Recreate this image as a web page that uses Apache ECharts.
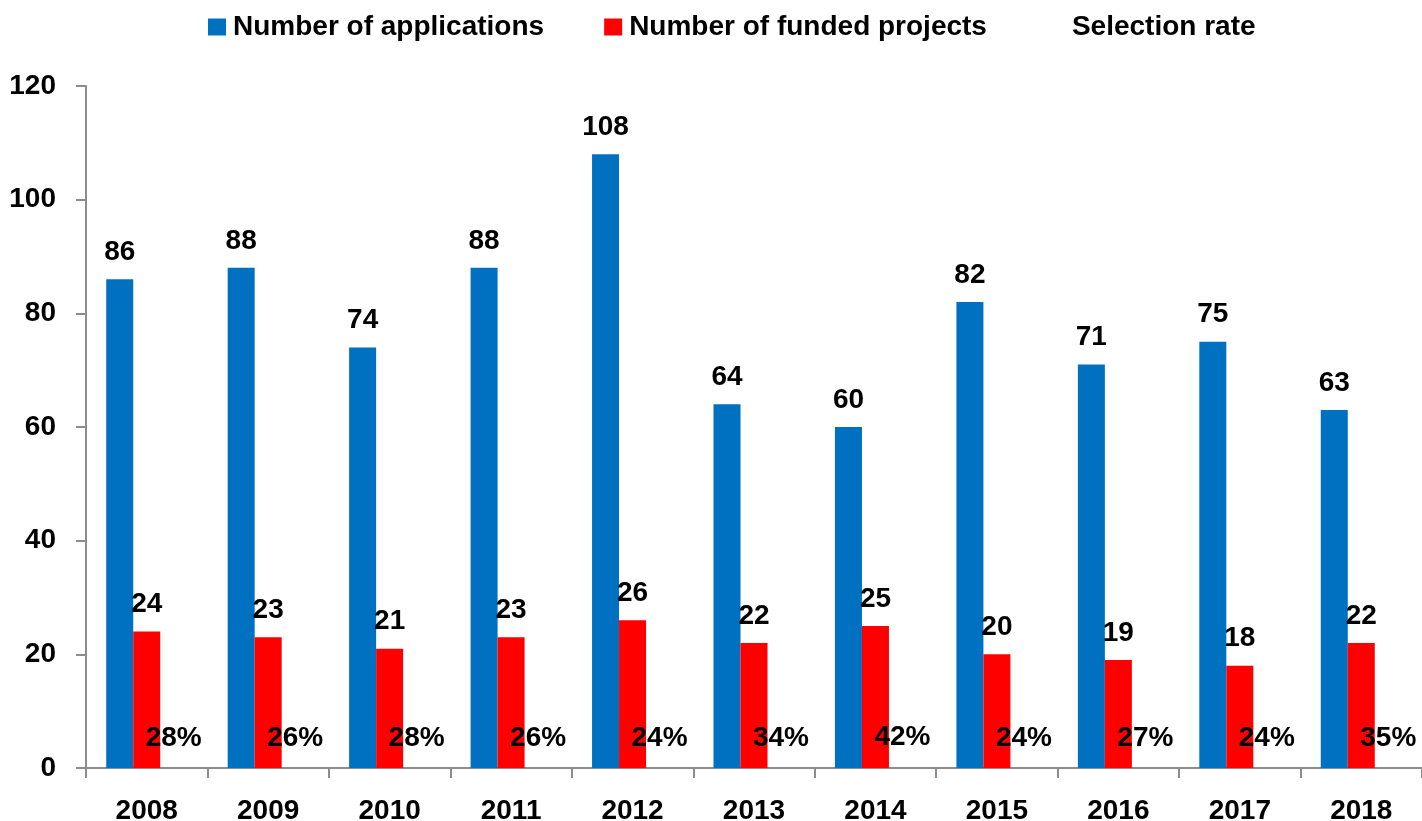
<!DOCTYPE html>
<html>
<head>
<meta charset="utf-8">
<script src="https://cdn.jsdelivr.net/npm/echarts@6/dist/echarts.min.js"></script>
<style>
html,body{margin:0;padding:0;background:#fff;}
#chart{width:1422px;height:821px;}
</style>
</head>
<body>
<div id="chart"></div>
<script>
const years = ['2008','2009','2010','2011','2012','2013','2014','2015','2016','2017','2018'];
const applications = [86, 88, 74, 88, 108, 64, 60, 82, 71, 75, 63];
const funded = [24, 23, 21, 23, 26, 22, 25, 20, 19, 18, 22];
const selectionRate = [0.28, 0.26, 0.28, 0.26, 0.24, 0.34, 0.42, 0.24, 0.27, 0.24, 0.35];
const yTicks = [0, 20, 40, 60, 80, 100, 120];

const FONT = '"Liberation Sans", Arial, sans-serif';
const chart = echarts.init(document.getElementById('chart'));
const labelStyle = {show: true, position: 'top', distance: 13, color: '#000', fontFamily: FONT, fontWeight: 'bold', fontSize: 28};

chart.setOption({
  animation: false,
  backgroundColor: '#fff',
  legend: {
    left: 203, top: 8,
    itemWidth: 18, itemHeight: 17, itemGap: 60,
    icon: 'rect',
    textStyle: {fontFamily: FONT, fontWeight: 'bold', fontSize: 28, color: '#000', padding: [0, 0, 0, 2]},
    data: ['Number of applications', 'Number of funded projects', 'Selection rate']
  },
  grid: {left: 86, right: 0, top: 86, bottom: 53, containLabel: false, outerBoundsMode: 'none'},
  xAxis: {
    type: 'category',
    data: years,
    axisLine: {lineStyle: {color: '#8c8c8c', width: 2}},
    axisTick: {show: true, length: 10, lineStyle: {color: '#8c8c8c', width: 2}},
    axisLabel: {margin: 29, color: '#000', fontFamily: FONT, fontWeight: 'bold', fontSize: 28}
  },
  yAxis: {
    type: 'value',
    min: yTicks[0], max: yTicks[yTicks.length - 1], interval: 20,
    axisLine: {show: true, lineStyle: {color: '#8c8c8c', width: 2}},
    axisTick: {show: true, length: 10, lineStyle: {color: '#8c8c8c', width: 2}},
    splitLine: {show: false},
    axisLabel: {margin: 30, color: '#000', fontFamily: FONT, fontWeight: 'bold', fontSize: 28}
  },
  series: [
    {
      name: 'Number of applications', type: 'bar', data: applications,
      barWidth: 27, barGap: '0%',
      itemStyle: {color: '#0070C0'},
      label: labelStyle
    },
    {
      name: 'Number of funded projects', type: 'bar', data: funded,
      barWidth: 27, barGap: '0%',
      itemStyle: {color: '#FF0000'},
      label: labelStyle
    },
    {
      name: 'Selection rate', type: 'bar', data: selectionRate,
      barWidth: 27, barGap: '0%',
      itemStyle: {color: 'rgba(255,255,255,0)'},
      label: Object.assign({}, labelStyle, {distance: 14, formatter: p => Math.round(p.value * 100) + '%'})
    }
  ]
});
</script>
</body>
</html>
